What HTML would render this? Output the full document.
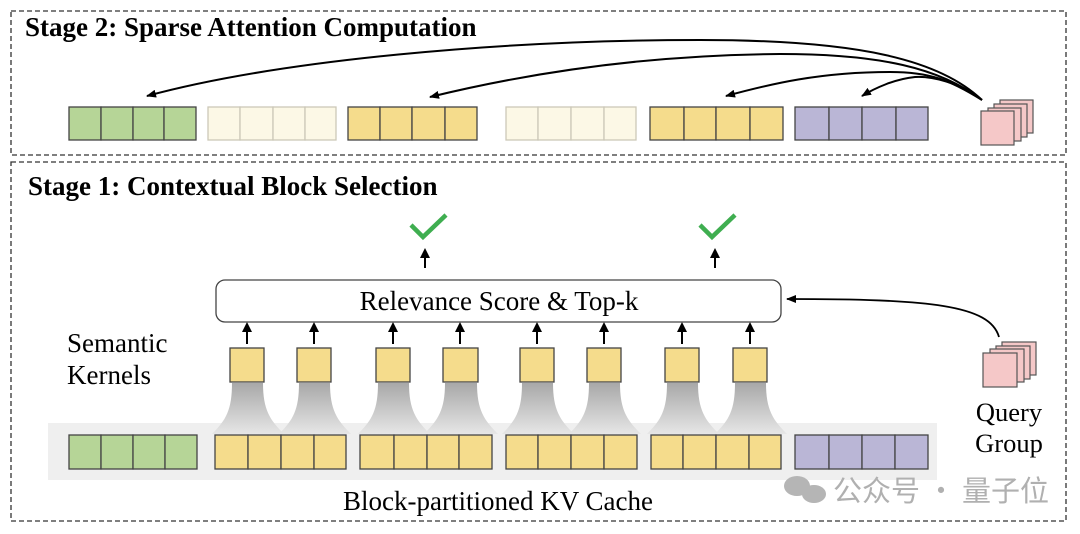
<!DOCTYPE html>
<html><head><meta charset="utf-8"><style>
html,body{margin:0;padding:0;background:#fff;}
svg{display:block;}
text{font-family:"Liberation Serif",serif;}
</style></head><body>
<svg width="1080" height="534" viewBox="0 0 1080 534" xmlns="http://www.w3.org/2000/svg">
<defs>
<marker id="ah" markerWidth="10" markerHeight="8" refX="9" refY="4" orient="auto" markerUnits="userSpaceOnUse">
<path d="M0,0 L10,4 L0,8 Z" fill="#000"/></marker>
<linearGradient id="fg" x1="0" y1="0" x2="0" y2="1">
<stop offset="0" stop-color="#a8a8a8"/><stop offset="1" stop-color="#e6e6e6"/></linearGradient>
</defs>
<rect x="11" y="11" width="1055" height="144" fill="none" stroke="#333" stroke-width="1.3" stroke-dasharray="5,3"/>
<rect x="11" y="162" width="1055" height="359" fill="none" stroke="#333" stroke-width="1.3" stroke-dasharray="5,3"/>
<text x="25" y="36" font-size="27" font-weight="bold">Stage 2: Sparse Attention Computation</text>
<text x="28" y="195" font-size="27" font-weight="bold">Stage 1: Contextual Block Selection</text>

<g stroke-width="1.3">
<g fill="#b6d597" stroke="#444"><rect x="69" y="107" width="32" height="33"/><rect x="101" y="107" width="32" height="33"/><rect x="133" y="107" width="31" height="33"/><rect x="164" y="107" width="32" height="33"/></g>
<g fill="#fcf8e6" stroke="#ccc8b8"><rect x="208" y="107" width="32" height="33"/><rect x="240" y="107" width="33" height="33"/><rect x="273" y="107" width="32" height="33"/><rect x="305" y="107" width="31" height="33"/></g>
<g fill="#f5dc8c" stroke="#444"><rect x="348" y="107" width="32" height="33"/><rect x="380" y="107" width="32" height="33"/><rect x="412" y="107" width="33" height="33"/><rect x="445" y="107" width="32" height="33"/></g>
<g fill="#fcf8e6" stroke="#ccc8b8"><rect x="506" y="107" width="32" height="33"/><rect x="538" y="107" width="33" height="33"/><rect x="571" y="107" width="33" height="33"/><rect x="604" y="107" width="32" height="33"/></g>
<g fill="#f5dc8c" stroke="#444"><rect x="650" y="107" width="34" height="33"/><rect x="684" y="107" width="32" height="33"/><rect x="716" y="107" width="34" height="33"/><rect x="750" y="107" width="33" height="33"/></g>
<g fill="#bab6d6" stroke="#444"><rect x="795" y="107" width="34" height="33"/><rect x="829" y="107" width="33" height="33"/><rect x="862" y="107" width="34" height="33"/><rect x="896" y="107" width="32" height="33"/></g>
</g>
<g fill="#f5c8c8" stroke="#555" stroke-width="1.2">
<rect x="1000" y="100" width="33" height="33"/><rect x="994" y="104" width="33" height="33"/><rect x="988" y="108" width="33" height="33"/><rect x="981" y="111" width="33" height="34"/>
</g>
<g fill="none" stroke="#000" stroke-width="2">
<path d="M982,100 C940,60 860,40 700,40 C500,40 280,60 147,96" marker-end="url(#ah)"/>
<path d="M982,100 C940,68 880,54 780,54 C640,55 520,75 430,97" marker-end="url(#ah)"/>
<path d="M982,100 C950,80 930,72 890,72 C820,72 770,84 726,96" marker-end="url(#ah)"/>
<path d="M982,100 C960,82 930,76 915,77 C895,79 875,88 862,96" marker-end="url(#ah)"/>
</g>

<rect x="48" y="423" width="889" height="57" fill="#efefef"/>
<g fill="url(#fg)">
<path d="M232,383 L263,383 C263,410 270,420 284,434 L212,434 C226,420 232,410 232,383Z"/>
<path d="M299,383 L330,383 C330,410 337,420 351,434 L279,434 C293,420 299,410 299,383Z"/>
<path d="M378,383 L409,383 C409,410 416,420 430,434 L358,434 C372,420 378,410 378,383Z"/>
<path d="M445,383 L477,383 C477,410 484,420 498,434 L424,434 C438,420 445,410 445,383Z"/>
<path d="M522,383 L553,383 C553,410 560,420 574,434 L502,434 C516,420 522,410 522,383Z"/>
<path d="M589,383 L620,383 C620,410 627,420 641,434 L569,434 C583,420 589,410 589,383Z"/>
<path d="M667,383 L698,383 C698,410 705,420 719,434 L647,434 C661,420 667,410 667,383Z"/>
<path d="M735,383 L766,383 C766,410 773,420 787,434 L715,434 C729,420 735,410 735,383Z"/>
</g>
<g stroke-width="1.3" stroke="#444">
<g fill="#b6d597"><rect x="69" y="435" width="32" height="34"/><rect x="101" y="435" width="32" height="34"/><rect x="133" y="435" width="32" height="34"/><rect x="165" y="435" width="32" height="34"/></g>
<g fill="#f5dc8c">
<rect x="215" y="435" width="33" height="34"/><rect x="248" y="435" width="33" height="34"/><rect x="281" y="435" width="33" height="34"/><rect x="314" y="435" width="32" height="34"/>
<rect x="360" y="435" width="34" height="34"/><rect x="394" y="435" width="33" height="34"/><rect x="427" y="435" width="32" height="34"/><rect x="459" y="435" width="33" height="34"/>
<rect x="506" y="435" width="32" height="34"/><rect x="538" y="435" width="33" height="34"/><rect x="571" y="435" width="33" height="34"/><rect x="604" y="435" width="33" height="34"/>
<rect x="651" y="435" width="32" height="34"/><rect x="683" y="435" width="33" height="34"/><rect x="716" y="435" width="33" height="34"/><rect x="749" y="435" width="32" height="34"/>
</g>
<g fill="#bab6d6"><rect x="795" y="435" width="34" height="34"/><rect x="829" y="435" width="33" height="34"/><rect x="862" y="435" width="33" height="34"/><rect x="895" y="435" width="33" height="34"/></g>
<g fill="#f5dc8c">
<rect x="230" y="348" width="34" height="34"/><rect x="297" y="348" width="34" height="34"/><rect x="376" y="348" width="34" height="34"/><rect x="443" y="348" width="35" height="34"/>
<rect x="520" y="348" width="34" height="34"/><rect x="587" y="348" width="34" height="34"/><rect x="665" y="348" width="34" height="34"/><rect x="733" y="348" width="34" height="34"/>
</g>
</g>
<g stroke="#000" stroke-width="2">
<line x1="247" y1="344" x2="247" y2="330"/><line x1="314" y1="344" x2="314" y2="330"/>
<line x1="393" y1="344" x2="393" y2="330"/><line x1="460" y1="344" x2="460" y2="330"/>
<line x1="537" y1="344" x2="537" y2="330"/><line x1="604" y1="344" x2="604" y2="330"/>
<line x1="682" y1="344" x2="682" y2="330"/><line x1="750" y1="344" x2="750" y2="330"/>
<line x1="425" y1="268" x2="425" y2="256"/><line x1="715" y1="268" x2="715" y2="256"/>
</g>
<g fill="#000">
<path d="M242,332 L247,322 L252,332Z"/><path d="M309,332 L314,322 L319,332Z"/>
<path d="M388,332 L393,322 L398,332Z"/><path d="M455,332 L460,322 L465,332Z"/>
<path d="M532,332 L537,322 L542,332Z"/><path d="M599,332 L604,322 L609,332Z"/>
<path d="M677,332 L682,322 L687,332Z"/><path d="M745,332 L750,322 L755,332Z"/>
<path d="M420,258 L425,248 L430,258Z"/><path d="M710,258 L715,248 L720,258Z"/>
</g>
<rect x="216" y="280" width="565" height="42" rx="9" fill="#fff" stroke="#444" stroke-width="1.3"/>
<text x="499" y="310" font-size="27" text-anchor="middle">Relevance Score &amp; Top-k</text>
<g fill="none" stroke="#3fae50" stroke-width="4.5">
<path d="M411,225 L423,237 L446,215"/><path d="M700,225 L712,237 L735,215"/>
</g>
<path d="M999,337 C990,305 930,299 787,299" fill="none" stroke="#000" stroke-width="1.8" marker-end="url(#ah)"/>
<g fill="#f5c8c8" stroke="#555" stroke-width="1.2">
<rect x="1002" y="342" width="34" height="33"/><rect x="996" y="346" width="34" height="33"/><rect x="990" y="349" width="34" height="33"/><rect x="983" y="353" width="34" height="34"/>
</g>
<text x="1009" y="421" font-size="26.5" text-anchor="middle">Query</text>
<text x="1009" y="452" font-size="26.5" text-anchor="middle">Group</text>
<text x="67" y="352" font-size="27">Semantic</text>
<text x="67" y="384" font-size="27">Kernels</text>
<text x="498" y="510" font-size="27" text-anchor="middle">Block-partitioned KV Cache</text>
<g fill="#b5b5b5"><ellipse cx="797" cy="486" rx="13" ry="10"/><ellipse cx="814" cy="494" rx="12" ry="9"/></g>
<text x="833" y="501" font-size="29" fill="#b0b0b0" style="font-family:'Noto Sans CJK SC',sans-serif">公众号 · 量子位</text>
</svg>
</body></html>
